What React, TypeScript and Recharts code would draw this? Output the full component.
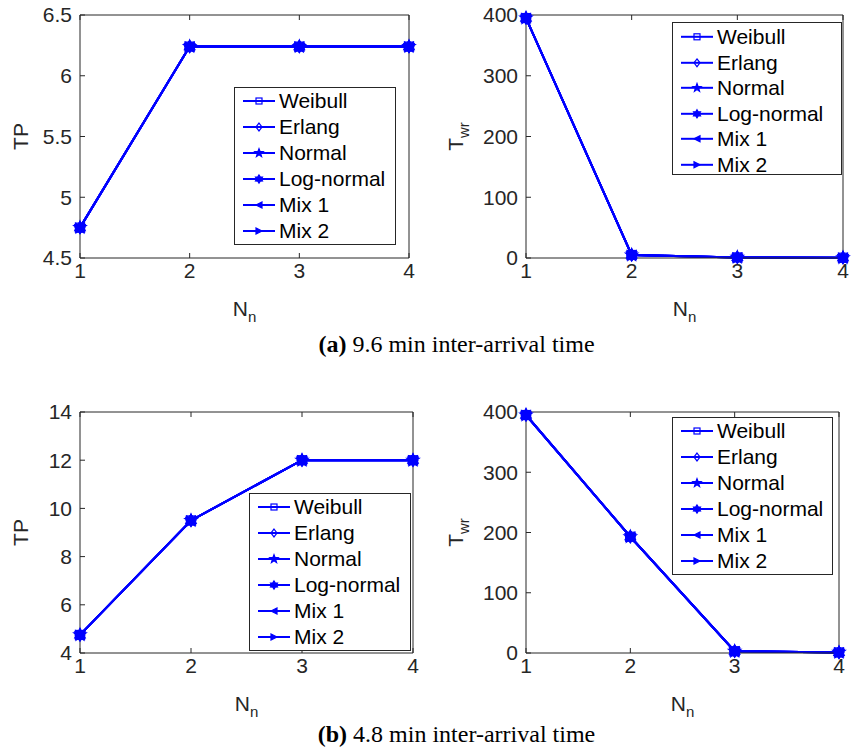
import React from 'react';
import { LineChart, Line, XAxis, YAxis, Legend } from 'recharts';

const BLUE = '#0000ff';
const AXIS = '#262626';
const FONT = '"Liberation Sans", Arial, Helvetica, sans-serif';

const nodeCounts = [1, 2, 3, 4];
const distributions = ['Weibull', 'Erlang', 'Normal', 'Log-normal', 'Mix 1', 'Mix 2'];
const markerKinds = ['square', 'diamond', 'pentagram', 'hexagram', 'left', 'right'];

// (a) 9.6 min inter-arrival time, one row per distribution
const throughputA = [
  [4.75, 6.24, 6.24, 6.24],
  [4.75, 6.24, 6.24, 6.24],
  [4.75, 6.24, 6.24, 6.24],
  [4.75, 6.24, 6.24, 6.24],
  [4.75, 6.24, 6.24, 6.24],
  [4.75, 6.24, 6.24, 6.24],
];
const waitingA = [
  [395, 5, 1, 0.5],
  [395, 5, 1, 0.5],
  [395, 5, 1, 0.5],
  [395, 5, 1, 0.5],
  [395, 5, 1, 0.5],
  [395, 5, 1, 0.5],
];

// (b) 4.8 min inter-arrival time
const throughputB = [
  [4.75, 9.5, 12, 12],
  [4.75, 9.5, 12, 12],
  [4.75, 9.5, 12, 12],
  [4.75, 9.5, 12, 12],
  [4.75, 9.5, 12, 12],
  [4.75, 9.5, 12, 12],
];
const waitingB = [
  [395, 193, 3, 1],
  [395, 193, 3, 1],
  [395, 193, 3, 1],
  [395, 193, 3, 1],
  [395, 193, 3, 1],
  [395, 193, 3, 1],
];

const tpTicksA = [4.5, 5, 5.5, 6, 6.5];
const tpTicksB = [4, 6, 8, 10, 12, 14];
const waitTicks = [0, 100, 200, 300, 400];

function starPoints(cx: number, cy: number, outer: number, inner: number, n: number) {
  const pts: string[] = [];
  for (let i = 0; i < n * 2; i++) {
    const r = i % 2 === 0 ? outer : inner;
    const a = -Math.PI / 2 + (i * Math.PI) / n;
    pts.push(`${cx + r * Math.cos(a)},${cy + r * Math.sin(a)}`);
  }
  return pts.join(' ');
}

function Marker({ kind, cx, cy, s }: { kind: string; cx: number; cy: number; s: number }) {
  const common = { stroke: BLUE, strokeWidth: 1.2 };
  switch (kind) {
    case 'square':
      return <rect x={cx - s} y={cy - s} width={2 * s} height={2 * s} fill="none" {...common} />;
    case 'diamond':
      return (
        <polygon
          points={`${cx},${cy - s * 1.3} ${cx + s},${cy} ${cx},${cy + s * 1.3} ${cx - s},${cy}`}
          fill="none"
          {...common}
        />
      );
    case 'pentagram':
      return <polygon points={starPoints(cx, cy, s * 1.45, s * 0.6, 5)} fill={BLUE} {...common} />;
    case 'hexagram':
      return <polygon points={starPoints(cx, cy, s * 1.35, s * 0.8, 6)} fill={BLUE} {...common} />;
    case 'left':
      return (
        <polygon points={`${cx - s},${cy} ${cx + s},${cy - s} ${cx + s},${cy + s}`} fill={BLUE} {...common} />
      );
    default:
      return (
        <polygon points={`${cx + s},${cy} ${cx - s},${cy - s} ${cx - s},${cy + s}`} fill={BLUE} {...common} />
      );
  }
}

const tickStyle = { fill: AXIS, fontSize: 21, fontFamily: FONT };

function renderXLabel(props: any) {
  const vb = props.viewBox;
  return (
    <text
      x={vb.x + vb.width / 2}
      y={vb.y + 58}
      textAnchor="middle"
      fill={AXIS}
      fontSize={21}
      fontFamily={FONT}
    >
      N<tspan dy={6} fontSize={15}>n</tspan>
    </text>
  );
}

function makeYLabel(text: string, sub: string, gap: number) {
  return (props: any) => {
    const vb = props.viewBox;
    const x = vb.x + vb.width - gap;
    const y = vb.y + vb.height / 2;
    return (
      <text
        x={x}
        y={y}
        transform={`rotate(-90 ${x} ${y})`}
        textAnchor="middle"
        fill={AXIS}
        fontSize={21}
        fontFamily={FONT}
      >
        {text}
        {sub && (
          <tspan dy={6} fontSize={15}>
            {sub}
          </tspan>
        )}
      </text>
    );
  };
}

type LegendSpec = { left: number; top: number; width: number; height: number; padTop: number; row: number };

function LegendBox({ spec }: { spec: LegendSpec }) {
  const mid = spec.row / 2;
  return (
    <div
      style={{
        width: spec.width,
        height: spec.height,
        boxSizing: 'border-box',
        border: `1px solid ${AXIS}`,
        background: '#fff',
        paddingTop: spec.padTop,
        fontFamily: FONT,
        fontSize: 21,
        color: '#000',
      }}
    >
      {distributions.map((name, k) => (
        <div key={name} style={{ display: 'flex', alignItems: 'center', height: spec.row }}>
          <svg width={44} height={spec.row} style={{ flex: 'none' }}>
            <line x1={8} x2={40} y1={mid} y2={mid} stroke={BLUE} strokeWidth={2} />
            <Marker kind={markerKinds[k]} cx={24} cy={mid} s={3} />
          </svg>
          <span style={{ lineHeight: `${spec.row}px`, whiteSpace: 'nowrap' }}>{name}</span>
        </div>
      ))}
    </div>
  );
}

type PanelProps = {
  series: number[][];
  ticks: number[];
  yLabel: string;
  ySub: string;
  labelGap: number;
  left: number;
  top: number;
  width: number;
  height: number;
  // plot box edges inside the chart
  plot: { top: number; right: number; bottom: number; left: number };
  legend: LegendSpec;
};

function Panel(p: PanelProps) {
  const rows = nodeCounts.map((n, i) => {
    const row: Record<string, number> = { n };
    p.series.forEach((vals, k) => {
      row[`s${k}`] = vals[i];
    });
    return row;
  });
  const domain = [p.ticks[0], p.ticks[p.ticks.length - 1]];
  // every axis is 1px thick, so the margins stop one pixel short of the box
  const margin = {
    top: p.plot.top - 1,
    left: p.plot.left - 1,
    right: p.width - p.plot.right - 1,
    bottom: p.height - p.plot.bottom - 1,
  };

  return (
    <div style={{ position: 'absolute', left: p.left, top: p.top }}>
      <LineChart width={p.width} height={p.height} data={rows} margin={margin}>
        <XAxis
          xAxisId="bottom"
          dataKey="n"
          type="number"
          domain={[1, 4]}
          ticks={nodeCounts}
          height={1}
          tickSize={-5}
          tickMargin={10}
          stroke={AXIS}
          tick={tickStyle}
          label={renderXLabel}
        />
        <XAxis
          xAxisId="top"
          orientation="top"
          dataKey="n"
          type="number"
          domain={[1, 4]}
          ticks={nodeCounts}
          height={1}
          tickSize={-5}
          stroke={AXIS}
          tickFormatter={() => ''}
        />
        <YAxis
          yAxisId="left"
          type="number"
          domain={domain}
          ticks={p.ticks}
          width={1}
          tickSize={-5}
          tickMargin={13}
          stroke={AXIS}
          tick={tickStyle}
          label={makeYLabel(p.yLabel, p.ySub, p.labelGap)}
        />
        <YAxis
          yAxisId="right"
          orientation="right"
          type="number"
          domain={domain}
          ticks={p.ticks}
          width={1}
          tickSize={-5}
          stroke={AXIS}
          tickFormatter={() => ''}
        />
        {distributions.map((name, k) => (
          <Line
            key={name}
            xAxisId="bottom"
            yAxisId="left"
            type="linear"
            dataKey={`s${k}`}
            name={name}
            stroke={BLUE}
            strokeWidth={2}
            isAnimationActive={false}
            activeDot={false}
            dot={(d: any) => (
              <g key={`${name}-${d.index}`}>
                <Marker kind={markerKinds[k]} cx={d.cx} cy={d.cy} s={4.5} />
              </g>
            )}
          />
        ))}
        <Legend
          layout="vertical"
          align="center"
          verticalAlign="middle"
          content={() => <LegendBox spec={p.legend} />}
          wrapperStyle={{ left: p.legend.left, top: p.legend.top, width: p.legend.width }}
        />
      </LineChart>
    </div>
  );
}

const captionStyle: React.CSSProperties = {
  position: 'absolute',
  left: 200,
  width: 513,
  textAlign: 'center',
  fontFamily: '"Liberation Serif", "Times New Roman", serif',
  fontSize: 24,
  lineHeight: '24px',
  color: '#000',
  whiteSpace: 'nowrap',
};

export default function App() {
  return (
    <div
      style={{
        position: 'absolute',
        left: 0,
        top: 0,
        width: 855,
        height: 751,
        background: '#fff',
        overflow: 'hidden',
      }}
    >
      <Panel
        series={throughputA}
        ticks={tpTicksA}
        yLabel="TP"
        ySub=""
        labelGap={52}
        left={0}
        top={0}
        width={430}
        height={330}
        plot={{ top: 15, right: 409, bottom: 258, left: 80 }}
        legend={{ left: 234, top: 87, width: 162, height: 158, padTop: 0, row: 26 }}
      />
      <Panel
        series={waitingA}
        ticks={waitTicks}
        yLabel="T"
        ySub="wr"
        labelGap={63}
        left={430}
        top={0}
        width={425}
        height={330}
        plot={{ top: 15, right: 413, bottom: 258, left: 96 }}
        legend={{ left: 242, top: 22, width: 170, height: 153, padTop: 1, row: 25.6 }}
      />
      <div style={{ ...captionStyle, top: 332 }}>
        <b>(a)</b> 9.6 min inter-arrival time
      </div>
      <Panel
        series={throughputB}
        ticks={tpTicksB}
        yLabel="TP"
        ySub=""
        labelGap={52}
        left={0}
        top={390}
        width={430}
        height={330}
        plot={{ top: 22, right: 413, bottom: 263, left: 80 }}
        legend={{ left: 249, top: 103, width: 162, height: 158, padTop: 0, row: 26 }}
      />
      <Panel
        series={waitingB}
        ticks={waitTicks}
        yLabel="T"
        ySub="wr"
        labelGap={63}
        left={430}
        top={390}
        width={425}
        height={330}
        plot={{ top: 22, right: 409, bottom: 263, left: 96 }}
        legend={{ left: 242, top: 27, width: 161, height: 158, padTop: 0, row: 26 }}
      />
      <div style={{ ...captionStyle, top: 722 }}>
        <b>(b)</b> 4.8 min inter-arrival time
      </div>
    </div>
  );
}
